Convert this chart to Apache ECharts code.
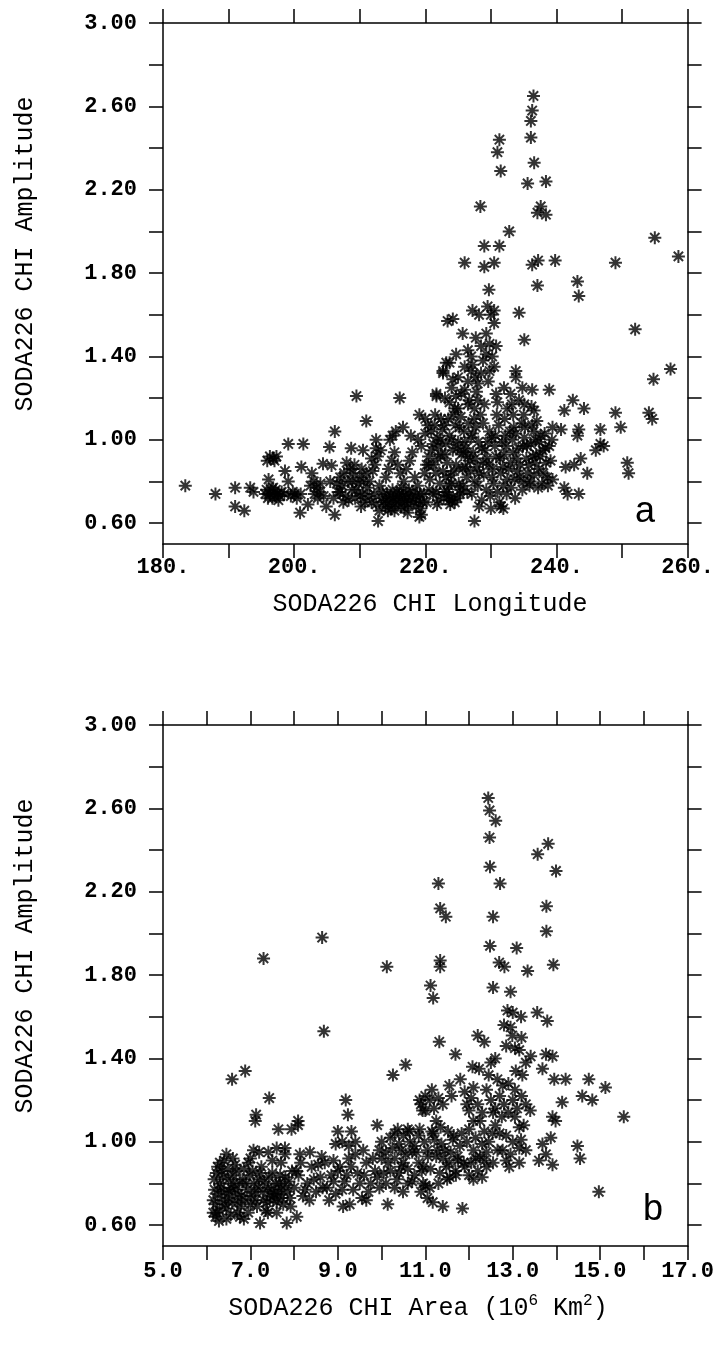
<!DOCTYPE html>
<html>
<head>
<meta charset="utf-8">
<script src="https://cdn.jsdelivr.net/npm/echarts@6/dist/echarts.min.js"></script>
<style>html,body{margin:0;padding:0;background:#fff;}#c{width:717px;height:1357px;}</style>
</head>
<body>
<div id="c"></div>
<script>
// ---- Panel a: [longitude, amplitude] ----
const ptsA = [
[236.5,2.65],[236.3,2.58],[236.1,2.53],[236.1,2.45],[231.3,2.44],[231.0,2.38],[231.5,2.29],[236.6,2.33],[235.6,2.23],[238.4,2.24],
[228.4,2.12],[237.6,2.12],[237.1,2.09],[238.4,2.08],[232.8,2.00],[229.0,1.93],[231.3,1.93],[255.0,1.97],[258.6,1.88],[226.0,1.85],
[229.0,1.83],[230.5,1.85],[236.3,1.84],[237.2,1.86],[239.8,1.86],[249.0,1.85],[229.7,1.72],[237.1,1.74],[243.2,1.76],[243.4,1.69],
[227.2,1.62],[229.5,1.64],[228.2,1.60],[234.3,1.61],[224.2,1.58],[230.5,1.56],[225.7,1.51],[227.7,1.49],[229.3,1.51],[252.0,1.53],
[235.1,1.48],[230.8,1.45],[226.5,1.43],[224.7,1.41],[229.3,1.41],[223.7,1.37],[227.2,1.36],[230.5,1.35],[222.7,1.32],[224.2,1.29],
[227.7,1.30],[233.8,1.33],[233.8,1.30],[228.0,1.27],[257.4,1.34],[254.8,1.29],[221.7,1.21],[224.7,1.21],[226.0,1.24],[226.7,1.19],
[228.0,1.19],[229.0,1.17],[230.8,1.22],[232.0,1.25],[231.0,1.18],[236.3,1.24],[238.9,1.24],[234.3,1.19],[235.1,1.17],[236.6,1.14],
[242.5,1.19],[244.2,1.15],[241.2,1.14],[249.0,1.13],[254.1,1.13],[254.6,1.10],[249.8,1.06],[246.7,1.05],[243.4,1.05],[243.2,1.02],
[239.4,1.06],[240.7,1.05],[246.7,0.98],[246.0,0.95],[247.2,0.97],[241.4,0.87],[242.7,0.88],[243.7,0.91],[244.7,0.84],[250.8,0.89],
[251.0,0.84],[241.2,0.77],[241.7,0.74],[243.4,0.74],[219.1,0.63],[227.5,0.61],[228.2,0.68],[230.0,0.67],[231.5,0.68],[223.7,0.71],
[224.9,0.72],[209.5,1.21],[211.0,1.09],[216.1,1.20],[219.1,1.12],[221.7,1.22],[222.7,1.33],[223.2,1.37],[223.4,1.57],[212.8,0.61],
[217.3,0.65],[219.4,0.64],
[183.4,0.78],[188.0,0.74],[191.0,0.77],[191.0,0.68],[192.4,0.66],[193.3,0.77],[193.8,0.75],[196.3,0.92],[197.3,0.92],[196.8,0.91],
[196.1,0.81],[195.6,0.74],[196.0,0.72],[196.5,0.76],[197.0,0.73],[197.6,0.71],[198.1,0.75],[196.8,0.77],[197.5,0.74],[199.1,0.98],
[201.4,0.98],[198.6,0.85],[199.1,0.80],[200.1,0.74],[200.9,0.65],[201.1,0.87],[202.7,0.84],[203.4,0.77],[203.9,0.75],[202.1,0.69],
[204.9,0.68],[206.2,0.64],[206.2,1.04],[205.4,0.965],[204.4,0.885],[205.7,0.877],[199.5,0.73],[200.4,0.72],[203.6,0.72],[203.1,0.74],
[206.7,0.75],[207.3,0.78],[207.8,0.73],[208.2,0.80],[208.8,0.76],[209.3,0.72],[209.8,0.79],[210.0,0.82],[207.5,0.70],[208.5,0.86],
[209.0,0.84],[210.5,0.74],[210.8,0.70],[211.2,0.77],[207.0,0.82],[208.0,0.89],[208.7,0.96],[210.5,0.95],[212.5,0.96],[214.6,1.00],
[215.5,1.04],[216.6,1.06],[215.0,1.02],
[211.5,0.80],[212.0,0.85],[212.3,0.88],[212.7,0.92],[213.0,0.78],[213.3,0.72],[213.6,0.70],[213.9,0.68],[214.2,0.74],[214.5,0.70],
[214.8,0.67],[215.1,0.72],[215.4,0.69],[215.7,0.75],[216.0,0.71],[216.3,0.68],[216.6,0.73],[216.9,0.70],[217.2,0.72],[217.5,0.76],
[214.0,0.82],[214.4,0.86],[214.9,0.90],[215.3,0.94],[215.8,0.88],[216.2,0.84],[216.7,0.80],[217.1,0.86],[217.6,0.90],[218.0,0.94],
[218.4,0.82],[218.8,0.78],[219.2,0.74],[219.6,0.70],[218.2,0.70],[218.6,0.68],[219.9,0.84],[220.2,0.88],[220.5,0.92],[219.4,0.97],
[218.9,1.00],[220.0,1.03],[220.4,1.07],[217.8,1.02],[213.2,0.95],[212.2,0.74],[211.8,0.70],[210.2,0.68],
[220.7,0.81],[221.3,0.88],[221.0,0.95],[221.8,1.01],[221.4,1.07],[222.2,0.79],[222.7,0.85],[222.3,0.93],[223.1,0.98],[222.6,1.05],
[223.5,1.10],[223.9,0.83],[223.3,0.89],[224.2,0.95],[223.7,1.02],[224.6,1.07],[225.1,0.79],[224.7,0.88],[225.5,0.93],[225.0,0.99],
[225.9,1.04],[225.4,1.11],[226.3,0.82],[226.8,0.90],[226.2,0.96],[227.0,1.01],[226.6,1.08],[227.5,0.80],[227.9,0.87],[227.3,0.94],
[228.1,0.99],[227.7,1.06],[228.4,1.12],[228.2,0.84],[220.9,1.04],[221.6,0.84],[222.0,0.97],[222.9,1.07],[223.6,0.78],[224.4,0.85],
[224.0,1.00],[225.2,1.06],[225.7,0.86],[226.0,0.99],[226.9,0.85],[227.2,1.03],[227.6,0.91],[228.6,0.96],[221.9,0.91],[223.0,0.93],
[224.9,0.96],[226.5,0.92],[228.0,0.78],[221.2,0.98],[222.4,1.10],[224.3,1.12],[225.8,0.94],[227.4,1.10],[228.8,0.89],[220.5,0.88],
[221.7,0.75],[222.8,0.72],[223.4,0.75],[224.1,0.71],[225.3,0.76],[226.4,0.75],[227.1,0.74],[223.2,0.82],[226.1,0.87],[221.5,1.12],
[221.2,0.74],[222.0,0.71],[222.9,0.75],[223.6,0.73],[224.5,0.70],[225.3,0.74],[221.8,0.69],[224.0,0.79],[225.8,0.78],[223.8,0.69],
[222.3,1.00],[226.5,1.17],[225.0,1.15],[227.5,1.15],[223.7,1.18],
[228.6,0.71],[229.3,0.76],[228.9,0.83],[229.7,0.88],[230.4,0.79],[229.1,0.95],[230.8,0.92],[231.5,0.84],[230.1,1.01],[231.2,1.07],
[232.3,0.97],[231.9,0.78],[232.7,0.86],[233.4,0.94],[232.1,1.10],[233.8,1.03],[234.5,0.88],[233.6,0.81],[234.9,0.97],[235.6,0.84],
[235.2,1.06],[236.4,0.92],[235.9,0.78],[236.8,1.00],[237.3,0.86],[237.9,0.95],[238.6,0.82],[238.2,1.03],[239.1,0.90],[237.0,1.09],
[229.8,1.04],[230.6,0.97],[231.0,0.75],[231.7,0.99],[232.9,1.04],[233.1,0.77],[234.0,0.85],[234.7,1.08],[235.4,0.91],[236.1,0.98],
[236.6,0.83],[237.6,1.02],[238.9,0.97],[239.4,0.81],[230.3,0.86],[229.5,0.99],[231.4,0.91],[232.5,0.81],[233.9,0.91],[235.0,0.80],
[236.3,1.07],[237.8,0.79],[238.4,0.89],[230.9,1.12],[232.0,0.93],[233.3,1.00],[234.2,0.96],[235.8,0.88],[236.9,0.93],[238.0,0.84],
[228.8,1.08],[229.9,0.73],[231.3,0.70],[232.4,0.74],[233.7,0.72],[234.8,0.76],[236.0,0.80],[237.2,0.77],[238.7,0.78],[239.3,1.00],
[230.2,0.82],[231.8,0.87],[233.0,0.89],[234.4,0.82],[235.5,0.97],[236.7,0.89],[237.5,0.92],[238.3,0.96],[229.4,0.91],[230.7,1.02],
[232.2,1.02],[233.5,1.06],[235.1,1.01],[236.5,1.04],[237.4,0.99],[233.4,1.12],[235.0,1.12],[236.2,1.16],[233.2,1.17],[231.9,0.67],
[212.5,0.69],[213.0,0.66],[213.5,0.75],[214.0,0.71],[214.3,0.66],[214.7,0.73],[215.0,0.76],[215.3,0.66],[215.6,0.71],[216.0,0.74],
[216.4,0.77],[216.8,0.67],[217.0,0.74],[217.4,0.69],[217.8,0.72],[218.1,0.75],[218.5,0.73],[219.0,0.71],[219.3,0.67],[219.8,0.74],
[220.2,0.70],[220.6,0.76],[220.0,1.10],[212.5,1.00],[211.8,0.91],
[205.5,0.80],[206.0,0.72],[206.5,0.79],[207.0,0.75],[207.6,0.84],[208.3,0.71],[208.9,0.80],[209.5,0.76],[210.1,0.73],[210.6,0.80],
[211.0,0.84],[211.5,0.73],[209.2,0.88],[210.3,0.86],
[195.8,0.76],[196.3,0.74],[196.7,0.72],[197.2,0.76],[197.8,0.73],[195.9,0.90],[197.0,0.90],[198.5,0.74],[199.8,0.75],[201.0,0.74],
[202.5,0.78],[203.0,0.80],[204.0,0.79],[204.5,0.73],
[223.0,1.20],[224.0,1.25],[225.0,1.30],[225.5,1.22],[226.5,1.28],[227.0,1.33],[227.8,1.23],[228.5,1.32],[228.8,1.38],[229.6,1.28],
[229.8,1.46],[230.2,1.40],[230.0,1.60],[230.5,1.62],[229.8,1.33],[228.5,1.45],[227.0,1.40],[226.0,1.35],[224.5,1.15],[232.5,1.15],
[233.0,1.22],[234.8,1.25]
];

// ---- Panel b: [area (10^6 km^2), amplitude] ----
const ptsB = [
[7.30,1.88],[8.64,1.98],[10.12,1.84],[11.30,2.24],[11.34,2.12],[11.47,2.08],[11.34,1.87],[11.34,1.84],[11.12,1.75],[11.18,1.69],
[12.44,2.65],[12.47,2.59],[12.61,2.54],[12.47,2.46],[12.48,2.32],[12.71,2.24],[12.55,2.08],[12.48,1.94],[13.09,1.93],[12.69,1.86],
[12.81,1.84],[13.34,1.82],[13.93,1.85],[12.55,1.74],[12.95,1.72],[13.81,2.43],[13.57,2.38],[13.99,2.30],[13.77,2.13],[13.77,2.01],
[12.88,1.63],[13.19,1.60],[13.56,1.62],[13.79,1.58],[12.80,1.56],[12.99,1.51],[11.32,1.48],[12.20,1.51],[12.35,1.48],[11.69,1.42],
[13.15,1.44],[13.41,1.41],[13.76,1.42],[13.91,1.41],[12.08,1.36],[12.23,1.35],[12.50,1.38],[13.07,1.34],[13.22,1.32],[13.68,1.35],
[11.55,1.27],[12.65,1.30],[12.77,1.27],[13.95,1.30],[14.21,1.30],[14.74,1.30],[15.12,1.26],[14.59,1.22],[14.82,1.20],[14.13,1.19],
[15.54,1.12],
[10.90,1.18],[11.00,1.15],[11.10,1.20],[11.20,1.16],[11.30,1.21],[11.90,1.24],[11.95,1.18],[12.00,1.15],[12.05,1.21],[12.10,1.26],
[12.50,1.20],[12.60,1.16],[12.70,1.22],[12.80,1.18],[12.90,1.14],[13.00,1.20],[13.10,1.16],[13.20,1.22],[13.30,1.18],[13.40,1.15],
[12.55,1.14],[13.05,1.25],
[13.91,1.12],[13.98,1.10],[13.87,1.02],[13.68,0.99],[13.76,0.94],[13.60,0.91],[13.91,0.89],[14.48,0.98],[14.54,0.92],[14.97,0.76],
[13.15,1.07],[13.19,1.01],[13.15,0.97],[13.15,0.90],[12.77,0.96],[12.85,0.91],[12.92,0.88],[12.54,1.04],
[12.00,0.84],[12.05,0.90],[12.10,0.96],[12.15,1.02],[12.20,0.86],[12.25,0.93],[12.30,0.99],[12.35,1.05],[12.40,0.88],[12.10,0.82],
[12.30,0.83],[12.40,0.95],
[10.92,0.86],[11.06,0.93],[10.98,1.00],[11.18,1.04],[11.12,0.87],[11.27,0.96],[11.21,1.01],[11.33,0.85],[11.41,0.92],[11.37,0.99],
[11.52,1.05],[11.48,0.88],[11.58,0.95],[11.63,1.01],[11.69,0.86],[11.74,0.93],[11.79,0.98],[11.83,1.04],[11.88,0.90],[11.56,0.83],
[10.90,0.76],[11.00,0.79],[11.05,0.73],[10.95,0.80],[11.17,0.71],[11.40,0.69],[11.85,0.68],
[8.68,1.53],[6.58,1.30],[6.88,1.34],[7.43,1.21],[7.13,1.13],[7.11,1.10],[7.64,1.06],[7.94,1.06],[8.09,1.08],[8.09,1.10],
[10.26,1.32],[10.55,1.37],[9.18,1.20],[9.23,1.13],[9.90,1.08],[9.00,1.05],[9.31,1.05],[8.95,0.99],[9.10,1.00],[9.25,0.98],
[9.40,1.00],[9.58,0.96],[10.37,1.06],[10.64,1.05],[10.87,1.06],[10.87,1.20],[10.94,1.15],[7.07,0.96],[7.41,0.95],[7.60,0.97],
[7.79,0.97],[7.79,0.94],[8.13,0.94],[8.36,0.95],[8.63,0.93],[8.70,0.90],
[6.15,0.66],[6.20,0.70],[6.25,0.75],[6.30,0.80],[6.35,0.86],[6.40,0.91],[6.45,0.68],[6.50,0.73],[6.55,0.78],[6.60,0.84],
[6.65,0.89],[6.70,0.71],[6.20,0.64],[6.30,0.67],[6.40,0.76],[6.50,0.82],[6.60,0.92],[6.25,0.88],[6.35,0.72],[6.55,0.65],
[6.45,0.94],[6.65,0.77],[6.17,0.82],[6.30,0.90],
[6.80,0.74],[6.90,0.80],[7.00,0.70],[7.10,0.76],[7.20,0.82],[7.30,0.72],[7.40,0.78],[7.50,0.85],[7.60,0.71],[7.70,0.77],
[7.80,0.83],[7.90,0.73],[6.85,0.87],[7.05,0.86],[7.25,0.88],[7.45,0.74],[7.65,0.80],[7.85,0.76],[6.95,0.66],[7.15,0.69],
[7.35,0.67],[7.55,0.75],[7.75,0.70],[7.95,0.86],[6.75,0.80],[7.00,0.92],[7.20,0.95],[7.50,0.91],[7.70,0.90],
[7.22,0.61],[7.83,0.61],[8.06,0.64],[6.23,0.66],[6.76,0.64],[6.85,0.63],
[8.00,0.78],[8.10,0.84],[8.20,0.74],[8.30,0.80],[8.40,0.88],[8.50,0.76],[8.60,0.83],[8.15,0.90],[8.35,0.72],[8.55,0.89],
[8.75,0.78],[8.85,0.84],[8.95,0.75],[9.05,0.88],[9.15,0.81],[9.25,0.92],[9.35,0.77],[9.45,0.85],[9.55,0.73],[9.65,0.90],
[9.75,0.80],[9.85,0.86],[9.95,0.78],[10.00,0.92],[9.12,0.69],[9.27,0.70],[9.65,0.72],[10.14,0.70],[10.49,0.76],[8.90,0.91],
[9.40,0.94],
[9.95,0.96],[10.05,0.85],[10.15,0.90],[10.25,0.97],[10.35,0.82],[10.45,0.88],[10.55,0.94],[10.65,1.00],[10.75,0.84],[10.85,0.90],
[10.20,1.02],[10.40,0.99],[10.60,0.80],[10.30,0.78],[10.70,0.95],[10.50,1.03],
[6.15,0.72],[6.18,0.77],[6.22,0.85],[6.28,0.62],[6.33,0.78],[6.38,0.83],[6.42,0.70],[6.48,0.87],[6.52,0.76],[6.58,0.71],
[6.62,0.80],[6.68,0.86],[6.72,0.75],[6.78,0.69],[6.82,0.82],[6.88,0.72],[6.92,0.77],[6.98,0.84],[7.02,0.74],[7.08,0.80],
[7.12,0.72],[7.18,0.78],[7.22,0.85],[7.28,0.76],[7.32,0.81],[7.38,0.71],[7.42,0.83],[7.48,0.77],[7.52,0.72],[7.58,0.80],
[7.62,0.75],[7.68,0.84],[7.72,0.73],[7.78,0.79],[7.88,0.81],[7.92,0.69],[6.95,0.90],[6.45,0.63],[6.70,0.66],[7.40,0.66],
[7.60,0.66],
[8.05,0.86],[8.25,0.77],[8.45,0.82],[8.65,0.78],[8.80,0.72],[8.90,0.81],[9.00,0.86],[9.10,0.77],[9.20,0.84],[9.30,0.88],
[9.50,0.80],[9.60,0.84],[9.70,0.76],[9.80,0.92],[9.90,0.83],[10.10,0.80],[10.20,0.86],[10.30,0.92],[10.40,0.85],[10.50,0.90],
[10.60,0.87],[10.80,0.95],[10.70,0.81],
[10.00,1.00],[10.10,0.95],[10.30,1.04],[10.45,0.96],[10.60,1.06],[10.75,0.98],[10.85,1.03],[10.95,0.88],[11.05,0.96],[11.15,1.05],
[11.25,0.93],[11.35,1.07],[11.45,0.96],[11.55,0.90],[11.65,1.03],[11.75,0.91],[11.30,0.80],[11.50,0.82],[11.70,0.84],[11.10,0.78],
[11.90,0.88],[11.95,1.00],[12.00,1.06],[12.15,0.92],[12.25,1.10],[12.35,0.91],[12.45,1.00],[12.55,0.90],[12.60,1.08],[12.65,0.96],
[12.75,1.12],[12.85,1.03],[12.95,0.94],[13.05,1.12],[13.25,1.08],[13.30,0.96],[12.20,1.18],[12.40,1.25],[12.30,1.14],[12.70,1.04],
[13.00,1.00],[12.10,1.10],
[11.00,1.22],[11.15,1.25],[11.40,1.18],[11.80,1.30],[11.60,1.22],[12.45,1.32],[12.60,1.40],[12.90,1.28],[13.05,1.45],[13.20,1.50],
[13.30,1.38],[12.95,1.55],[13.00,1.62],[12.85,1.46],[11.25,1.10]
];

// ---- Axis tick values / labels ----
const ampTicks = [0.6,0.8,1.0,1.2,1.4,1.6,1.8,2.0,2.2,2.4,2.6,2.8,3.0];
const ampLabels = [0.6,1.0,1.4,1.8,2.2,2.6,3.0];
const lonTicks = [180,190,200,210,220,230,240,250,260];
const lonLabels = [180,200,220,240,260];
const areaTicks = [5,6,7,8,9,10,11,12,13,14,15,16,17];
const areaLabels = [5,7,9,11,13,15,17];

const STAR = 'path://M0 -6L0 6M-6 0L6 0M-4.3 -4.3L4.3 4.3M-4.3 4.3L4.3 -4.3';
const tickFont = {fontFamily:'Liberation Mono', fontWeight:'bold', fontSize:22, color:'#000'};
const tick = {show:true, inside:false, length:14, lineStyle:{color:'#000', width:1.5}};

function xAx(gi, min, max, ticks, labels, fmt, pos, showLabel, margin){
  return {type:'value', gridIndex:gi, min:min, max:max, position:pos,
    axisLine:{show:true, lineStyle:{color:'#000', width:1.5}},
    axisTick:Object.assign({customValues:ticks}, tick),
    axisLabel:Object.assign({show:showLabel, customValues:labels, margin:margin, formatter:fmt}, tickFont),
    splitLine:{show:false}};
}
function yAx(gi, pos, showLabel){
  return {type:'value', gridIndex:gi, min:0.5, max:3.0, position:pos,
    axisLine:{show:true, lineStyle:{color:'#000', width:1.5}},
    axisTick:Object.assign({customValues:ampTicks}, tick),
    axisLabel:Object.assign({show:showLabel, customValues:ampLabels, margin:26, formatter:v=>v.toFixed(2)}, tickFont),
    splitLine:{show:false}};
}
const lonFmt = v => v.toFixed(0)+'.';
const areaFmt = v => v.toFixed(1);

const chart = echarts.init(document.getElementById('c'), null, {renderer:'canvas'});
const markStyle = {color:'#000', borderColor:'#000', borderWidth:2};
chart.setOption({
  animation:false,
  backgroundColor:'#fff',
  grid:[
    {left:163, top:23, width:525, height:521, containLabel:false},
    {left:163, top:725, width:525, height:521, containLabel:false}
  ],
  xAxis:[
    xAx(0,180,260,lonTicks,lonLabels,lonFmt,'bottom',true,12),
    xAx(0,180,260,lonTicks,lonLabels,lonFmt,'top',false,12),
    xAx(1,5,17,areaTicks,areaLabels,areaFmt,'bottom',true,14),
    xAx(1,5,17,areaTicks,areaLabels,areaFmt,'top',false,14)
  ],
  yAxis:[
    yAx(0,'left',true), yAx(0,'right',false),
    yAx(1,'left',true), yAx(1,'right',false)
  ],
  series:[
    {type:'scatter', xAxisIndex:0, yAxisIndex:0, data:ptsA, symbol:STAR, symbolSize:13,
     itemStyle:markStyle, emphasis:{disabled:true}, silent:true},
    {type:'scatter', xAxisIndex:2, yAxisIndex:2, data:ptsB, symbol:STAR, symbolSize:13,
     itemStyle:markStyle, emphasis:{disabled:true}, silent:true}
  ],
  graphic:[
    {type:'text', x:25, y:254, rotation:Math.PI/2, style:{text:'SODA226 CHI Amplitude', fontFamily:'Liberation Mono', fontSize:25, fill:'#000', textAlign:'center', textVerticalAlign:'middle'}},
    {type:'text', x:25, y:956, rotation:Math.PI/2, style:{text:'SODA226 CHI Amplitude', fontFamily:'Liberation Mono', fontSize:25, fill:'#000', textAlign:'center', textVerticalAlign:'middle'}},
    {type:'text', x:430, y:604, style:{text:'SODA226 CHI Longitude', fontFamily:'Liberation Mono', fontSize:25, fill:'#000', textAlign:'center', textVerticalAlign:'middle'}},
    {type:'text', x:418, y:1308, style:{text:'{n|SODA226 CHI Area (10}{s|6}{n| Km}{s|2}{n|)}', textAlign:'center', textVerticalAlign:'middle',
      rich:{n:{fontFamily:'Liberation Mono', fontSize:25, fill:'#000'}, s:{fontFamily:'Liberation Mono', fontSize:16, fill:'#000', padding:[0,0,14,0]}}}},
    {type:'text', x:645, y:512, style:{text:'a', fontFamily:'Liberation Sans', fontSize:36, fill:'#000', textAlign:'center', textVerticalAlign:'middle'}},
    {type:'text', x:653, y:1210, style:{text:'b', fontFamily:'Liberation Sans', fontSize:36, fill:'#000', textAlign:'center', textVerticalAlign:'middle'}}
  ]
});
</script>
</body>
</html>
